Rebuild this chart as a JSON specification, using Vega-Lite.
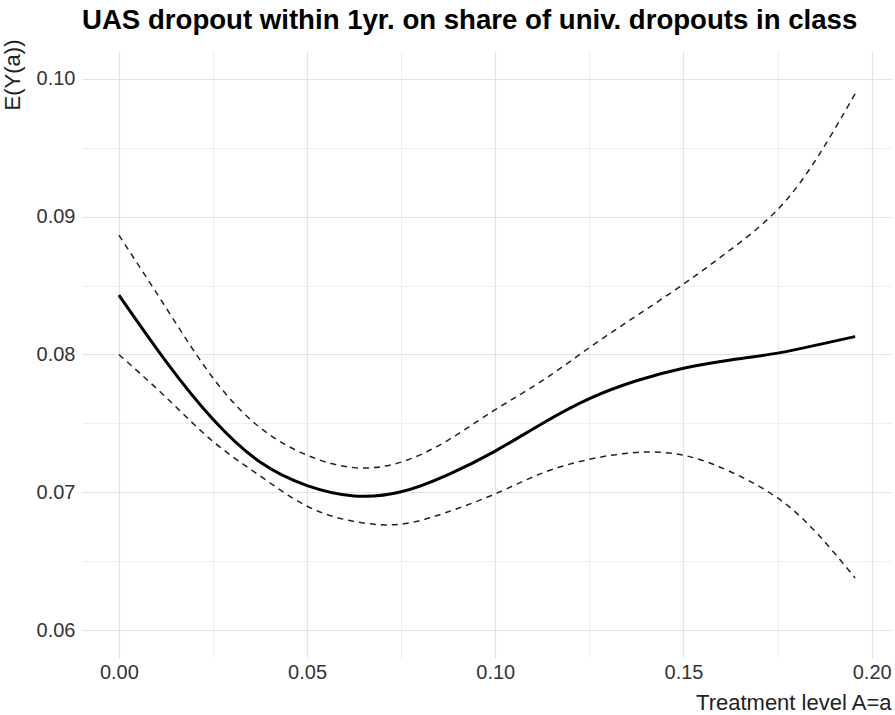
{
  "$schema": "https://vega.github.io/schema/vega-lite/v6.json",
  "autosize": {"type": "none"},
  "width": 810,
  "height": 607,
  "padding": {"left": 82, "top": 51, "right": 3, "bottom": 57},
  "background": "white",
  "config": {
    "view": {"stroke": null},
    "font": "Liberation Sans"
  },
  "title": {
    "text": "UAS dropout within 1yr. on share of univ. dropouts in class",
    "anchor": "start",
    "frame": "group",
    "font": "Liberation Sans",
    "fontSize": 27.6,
    "fontWeight": "bold",
    "color": "#000000",
    "baseline": "alphabetic",
    "offset": 23,
    "dy": 41
  },
  "data": {
    "values": [
      {"a": 0.0, "est": 0.0843, "lo": 0.0800, "hi": 0.08865},
      {"a": 0.0125, "est": 0.0795, "lo": 0.0769, "hi": 0.0834},
      {"a": 0.025, "est": 0.0753, "lo": 0.0737, "hi": 0.0783},
      {"a": 0.0375, "est": 0.0722, "lo": 0.0712, "hi": 0.0747},
      {"a": 0.05, "est": 0.0705, "lo": 0.0690, "hi": 0.0727},
      {"a": 0.0625, "est": 0.06975, "lo": 0.0679, "hi": 0.0718},
      {"a": 0.075, "est": 0.07005, "lo": 0.0677, "hi": 0.0722},
      {"a": 0.0875, "est": 0.0713, "lo": 0.0686, "hi": 0.0738},
      {"a": 0.1, "est": 0.0730, "lo": 0.0699, "hi": 0.0760},
      {"a": 0.1125, "est": 0.0750, "lo": 0.0714, "hi": 0.0781},
      {"a": 0.125, "est": 0.0768, "lo": 0.0724, "hi": 0.0805},
      {"a": 0.1375, "est": 0.0781, "lo": 0.0729, "hi": 0.0828},
      {"a": 0.15, "est": 0.0790, "lo": 0.0727, "hi": 0.0851},
      {"a": 0.1625, "est": 0.0796, "lo": 0.0715, "hi": 0.0876},
      {"a": 0.175, "est": 0.0801, "lo": 0.0696, "hi": 0.0905},
      {"a": 0.1856, "est": 0.0807, "lo": 0.0670, "hi": 0.0943},
      {"a": 0.1956, "est": 0.0813, "lo": 0.0638, "hi": 0.0989}
    ]
  },
  "encoding": {
    "x": {
      "field": "a",
      "type": "quantitative",
      "scale": {"domain": [-0.0098, 0.2054], "nice": false, "zero": false},
      "axis": {
        "title": "Treatment level A=a",
        "values": [0, 0.025, 0.05, 0.075, 0.1, 0.125, 0.15, 0.175, 0.2],
        "labelExpr": "abs(datum.value*20 - round(datum.value*20)) < 1e-6 ? format(datum.value, '.2f') : ''",
        "domain": false,
        "ticks": false,
        "grid": true,
        "gridColor": {"condition": {"test": "abs(datum.value*20 - round(datum.value*20)) < 1e-6", "value": "#e3e3e3"}, "value": "#ececec"},
        "gridWidth": {"condition": {"test": "abs(datum.value*20 - round(datum.value*20)) < 1e-6", "value": 1.2}, "value": 0.9},
        "labelFont": "Liberation Sans",
        "labelFontSize": 20,
        "labelColor": "#333333",
        "labelPadding": 4,
        "labelFlush": false,
        "labelOverlap": false,
        "titleFont": "Liberation Sans",
        "titleFontSize": 22,
        "titleFontWeight": "normal",
        "titleColor": "#222222",
        "titleAnchor": "end",
        "titleAlign": "right",
        "titleBaseline": "alphabetic",
        "titleX": 809,
        "titleY": 51
      }
    }
  },
  "layer": [
    {
      "mark": {"type": "line", "color": "#222222", "strokeWidth": 1.5, "strokeDash": [6, 5], "interpolate": "natural"},
      "encoding": {
        "y": {
          "field": "hi",
          "type": "quantitative",
          "scale": {"domain": [0.058, 0.102], "nice": false, "zero": false},
          "axis": {
            "title": "E(Y(a))",
            "values": [0.06, 0.065, 0.07, 0.075, 0.08, 0.085, 0.09, 0.095, 0.1],
            "labelExpr": "abs(datum.value*100 - round(datum.value*100)) < 1e-6 ? format(datum.value, '.2f') : ''",
            "domain": false,
            "ticks": false,
            "grid": true,
            "gridColor": {"condition": {"test": "abs(datum.value*100 - round(datum.value*100)) < 1e-6", "value": "#e3e3e3"}, "value": "#ececec"},
            "gridWidth": {"condition": {"test": "abs(datum.value*100 - round(datum.value*100)) < 1e-6", "value": 1.2}, "value": 0.9},
            "labelFont": "Liberation Sans",
            "labelFontSize": 20,
            "labelColor": "#333333",
            "labelPadding": 7,
            "labelFlush": false,
            "labelOverlap": false,
            "titleFont": "Liberation Sans",
            "titleFontSize": 22,
            "titleFontWeight": "normal",
            "titleColor": "#222222",
            "titleAngle": 270,
            "titleAlign": "right",
            "titleBaseline": "middle",
            "titleX": -70,
            "titleY": -12
          }
        }
      }
    },
    {
      "mark": {"type": "line", "color": "#222222", "strokeWidth": 1.5, "strokeDash": [6, 5], "interpolate": "natural"},
      "encoding": {"y": {"field": "lo", "type": "quantitative"}}
    },
    {
      "mark": {"type": "line", "color": "#000000", "strokeWidth": 3, "interpolate": "natural"},
      "encoding": {"y": {"field": "est", "type": "quantitative"}}
    }
  ]
}
